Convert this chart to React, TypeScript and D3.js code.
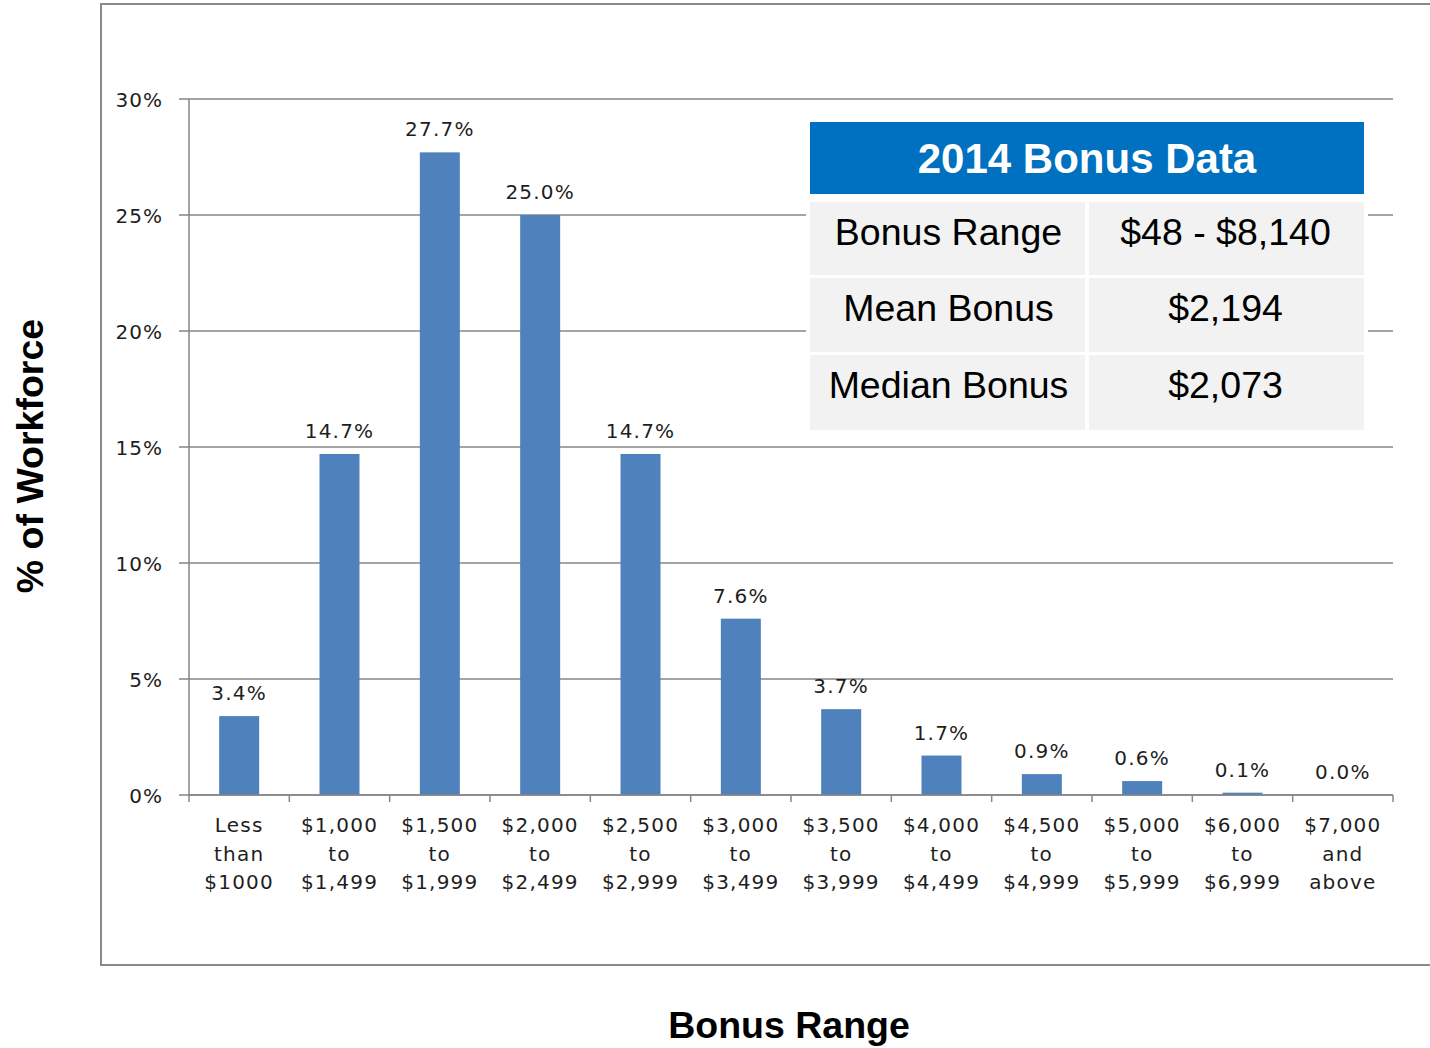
import React from "react";
import * as d3 from "d3";

const categories: string[][] = [
  ["Less", "than", "$1000"],
  ["$1,000", "to", "$1,499"],
  ["$1,500", "to", "$1,999"],
  ["$2,000", "to", "$2,499"],
  ["$2,500", "to", "$2,999"],
  ["$3,000", "to", "$3,499"],
  ["$3,500", "to", "$3,999"],
  ["$4,000", "to", "$4,499"],
  ["$4,500", "to", "$4,999"],
  ["$5,000", "to", "$5,999"],
  ["$6,000", "to", "$6,999"],
  ["$7,000", "and", "above"],
];
const values: number[] = [3.4, 14.7, 27.7, 25.0, 14.7, 7.6, 3.7, 1.7, 0.9, 0.6, 0.1, 0.0];
const yTicks: number[] = [0, 5, 10, 15, 20, 25, 30];
const tableTitle = "2014 Bonus Data";
const tableLabels: string[] = ["Bonus Range", "Mean Bonus", "Median Bonus"];
const tableValues: string[] = ["$48 - $8,140", "$2,194", "$2,073"];

const W = 1430;
const H = 1048;
const left = 189;
const right = 1393;
const top = 99;
const bottom = 795;

const tickFont = "'DejaVu Sans', Verdana, sans-serif";
const arial = "'Liberation Sans', Arial, sans-serif";
const textColor = "#1e1e1e";
const gridColor = "#868686";

export default function App() {
  const x = d3
    .scaleBand<number>()
    .domain(d3.range(categories.length))
    .range([left, right])
    .paddingInner(0)
    .paddingOuter(0);
  const y = d3.scaleLinear().domain([0, 30]).range([bottom, top]);
  const bw = 40;
  const bounds = d3.range(categories.length + 1).map((i) => left + i * x.step());

  // table geometry
  const tX = 810;
  const tW = 554;
  const colSplit = 1087;
  const headTop = 122;
  const headH = 72;
  const rowTops = [202, 278, 355];
  const rowH = [73, 74, 75];

  return (
    <svg
      width={W}
      height={H}
      style={{ position: "absolute", left: 0, top: 0, background: "#fff" }}
    >
      <rect x={0} y={0} width={W} height={H} fill="#fff" />
      {/* outer frame */}
      <rect x={101} y={4} width={1400} height={961} fill="none" stroke="#8a8a8a" strokeWidth={2} />

      {/* gridlines and y ticks */}
      {yTicks.map((t) => (
        <g key={t}>
          <line x1={179} x2={right} y1={y(t)} y2={y(t)} stroke={gridColor} strokeWidth={1.5} />
          <text
            x={163}
            y={y(t) + 8}
            textAnchor="end"
            fontFamily={tickFont}
            fontSize={20}
            letterSpacing={1}
            fill={textColor}
          >
            {t}%
          </text>
        </g>
      ))}
      {/* y axis line */}
      <line x1={left} x2={left} y1={top} y2={bottom} stroke={gridColor} strokeWidth={1.5} />

      {/* bars */}
      {values.map((v, i) => {
        const cx = (x(i) as number) + x.bandwidth() / 2;
        return (
          <g key={i}>
            {v > 0 && (
              <rect
                x={cx - bw / 2}
                y={y(v)}
                width={bw}
                height={bottom - y(v)}
                fill="#4F81BD"
              />
            )}
            <text
              x={cx}
              y={y(v) - 16}
              textAnchor="middle"
              fontFamily={tickFont}
              fontSize={20}
              letterSpacing={1.2}
              fill={textColor}
            >
              {v.toFixed(1)}%
            </text>
          </g>
        );
      })}

      {/* x axis */}
      <line x1={left} x2={right} y1={bottom} y2={bottom} stroke={gridColor} strokeWidth={1.5} />
      {bounds.map((b, i) => (
        <line key={i} x1={b} x2={b} y1={bottom} y2={bottom + 7} stroke={gridColor} strokeWidth={1.5} />
      ))}
      {categories.map((lines, i) => {
        const cx = (x(i) as number) + x.bandwidth() / 2;
        return (
          <text
            key={i}
            textAnchor="middle"
            fontFamily={tickFont}
            fontSize={20}
            letterSpacing={1.2}
            fill={textColor}
          >
            {lines.map((l, j) => (
              <tspan key={j} x={cx} y={832 + j * 28.5}>
                {l}
              </tspan>
            ))}
          </text>
        );
      })}

      {/* table */}
      <rect x={tX - 4} y={headTop - 4} width={tW + 8} height={rowTops[2] + rowH[2] - headTop + 8} fill="#fff" />
      <rect x={tX} y={headTop} width={tW} height={headH} fill="#0070C0" />
      <text
        x={tX + tW / 2}
        y={headTop + 51}
        textAnchor="middle"
        fontFamily={arial}
        fontWeight="bold"
        fontSize={42}
        fill="#fff"
      >
        {tableTitle}
      </text>
      {tableLabels.map((lab, i) => (
        <g key={lab}>
          <rect x={tX} y={rowTops[i]} width={colSplit - 2 - tX} height={rowH[i]} fill="#F2F2F2" />
          <rect x={colSplit + 2} y={rowTops[i]} width={tX + tW - colSplit - 2} height={rowH[i]} fill="#F2F2F2" />
          <text
            x={(tX + colSplit) / 2}
            y={rowTops[i] + 43}
            textAnchor="middle"
            fontFamily={arial}
            fontSize={37.5}
            fill="#000"
          >
            {lab}
          </text>
          <text
            x={(colSplit + tX + tW) / 2}
            y={rowTops[i] + 43}
            textAnchor="middle"
            fontFamily={arial}
            fontSize={37.5}
            fill="#000"
          >
            {tableValues[i]}
          </text>
        </g>
      ))}

      {/* axis titles */}
      <text
        transform={`translate(43,456) rotate(-90)`}
        textAnchor="middle"
        fontFamily={arial}
        fontWeight="bold"
        fontSize={37.5}
        fill="#000"
      >
        % of Workforce
      </text>
      <text
        x={789}
        y={1038}
        textAnchor="middle"
        fontFamily={arial}
        fontWeight="bold"
        fontSize={37.5}
        fill="#000"
      >
        Bonus Range
      </text>
    </svg>
  );
}
